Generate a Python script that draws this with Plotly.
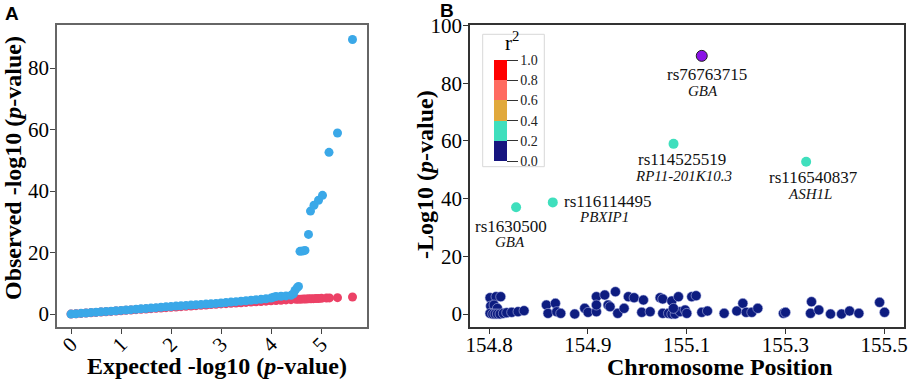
import plotly.graph_objects as go

# ---------------- Panel A: QQ plot ----------------
qq_exp_red = [0.0, 0.1, 0.2, 0.3, 0.4, 0.5, 0.6, 0.7, 0.8, 0.9, 1.0, 1.1, 1.2, 1.3, 1.4, 1.5,
              1.6, 1.7, 1.8, 1.9, 2.0, 2.1, 2.2, 2.3, 2.4, 2.5, 2.6, 2.7, 2.8, 2.9, 3.0, 3.1,
              3.2, 3.3, 3.4, 3.5, 3.6, 3.7, 3.8, 3.9, 4.0, 4.1, 4.2, 4.3, 4.4, 4.5, 4.55, 4.6,
              4.65, 4.7, 4.75, 4.8, 4.85, 4.9, 4.95, 5.01, 5.11, 5.17, 5.33, 5.63]
qq_obs_red = [0.0, 0.11, 0.22, 0.33, 0.44, 0.55, 0.66, 0.77, 0.88, 0.99, 1.1, 1.21, 1.32, 1.43,
              1.54, 1.65, 1.76, 1.87, 1.98, 2.09, 2.2, 2.31, 2.42, 2.53, 2.64, 2.75, 2.86, 2.97,
              3.08, 3.19, 3.3, 3.4, 3.5, 3.6, 3.7, 3.8, 3.9, 4.0, 4.1, 4.2, 4.3, 4.4, 4.5, 4.6,
              4.7, 4.8, 4.82, 4.85, 4.88, 4.9, 4.95, 5.0, 5.02, 5.05, 5.08, 5.15, 5.2, 5.25,
              5.35, 5.55]

qq_exp_blue = [0.0, 0.1, 0.2, 0.3, 0.4, 0.5, 0.6, 0.7, 0.8, 0.9, 1.0, 1.1, 1.2, 1.3, 1.4, 1.5,
               1.6, 1.7, 1.8, 1.9, 2.0, 2.1, 2.2, 2.3, 2.4, 2.5, 2.6, 2.7, 2.8, 2.9, 3.0, 3.1,
               3.2, 3.3, 3.4, 3.5, 3.6, 3.7, 3.8, 3.9, 4.0, 4.05, 4.1, 4.2, 4.3, 4.4, 4.45,
               4.48, 4.52, 4.55,
               4.58, 4.63, 4.68, 4.75, 4.79, 4.86, 4.95, 5.03, 5.16, 5.33, 5.63]
qq_obs_blue = [0.0, 0.12, 0.24, 0.36, 0.48, 0.6, 0.72, 0.84, 0.96, 1.08, 1.2, 1.32, 1.44, 1.57,
               1.7, 1.83, 1.96, 2.09, 2.22, 2.35, 2.48, 2.6, 2.71, 2.82, 2.93, 3.04, 3.15, 3.26,
               3.37, 3.48, 3.6, 3.75, 3.9, 4.05, 4.2, 4.35, 4.5, 4.65, 4.8, 4.98, 5.2, 5.5,
               5.7, 5.8, 5.9, 6.1, 6.6, 7.7, 8.5, 9.0,
               20.4, 20.5, 20.7, 25.9, 33.5, 35.4, 37.0, 38.6, 52.6, 58.9, 89.3]

qq_xticks = [0, 1, 2, 3, 4, 5]
qq_yticks = [0, 20, 40, 60, 80]

# ---------------- Panel B: regional plot ----------------
pos_low = [154.8018, 154.8124, 154.8207, 154.8030, 154.8089, 154.8148, 154.8018, 154.8065,
           154.8106, 154.8148, 154.8195, 154.8254, 154.8313, 154.8402, 154.8514, 154.8621,
           154.9017, 154.9176, 154.9046, 154.9200, 154.9271, 154.9519, 154.9696, 154.9755,
           154.9903, 154.9903, 155.0051, 154.9903, 155.0110, 155.0240, 155.0145, 155.0281,
           155.0394, 155.0470, 155.0571, 155.0736, 155.0707, 155.0855, 155.1032, 155.1079,
           155.1239, 155.1357, 155.1079, 155.1180, 155.1239, 155.1298, 155.1386, 155.1475,
           155.1505, 155.1268, 155.1593, 155.1670, 155.1771, 155.1871, 155.2167, 155.2391,
           155.2498, 155.2557, 155.2657, 155.2763, 155.3218, 155.3254, 155.3715, 155.3697,
           155.3845, 155.4052, 155.4247, 155.4389, 155.4554, 155.4921, 155.5009]
logp_low = [5.66, 6.01, 6.01, 2.77, 3.12, 1.96, 0.23, 0.0, 0.0, 0.0, 0.0, 0.23, 0.46, 0.58,
            0.81, 1.16, 3.12, 3.70, 0.23, 0.81, 0.23, 0.0, 1.96, 0.58, 0.81, 6.01, 6.59, 3.12,
            3.12, 7.74, 2.54, 0.23, 1.96, 6.01, 5.66, 4.85, 0.58, 0.81, 5.66, 5.20, 4.51, 6.01,
            0.23, 0.23, 0.0, 0.0, 0.81, 1.39, 0.23, 1.96, 6.01, 6.35, 0.58, 1.04, 0.23, 1.04,
            3.70, 0.58, 0.58, 1.96, 0.23, 0.58, 4.27, 0.23, 1.39, 0.0, 0.0, 1.04, 0.23, 4.04,
            0.58]

snp_names = ["rs1630500", "rs116114495", "rs114525519", "rs116540837"]
snp_genes = ["GBA", "PBXIP1", "RP11-201K10.3", "ASH1L"]
snp_pos = [154.848, 154.913, 155.127, 155.362]
snp_logp = [37.0, 38.7, 59.0, 52.8]
snp_r2 = [0.3, 0.3, 0.3, 0.3]

lead_name = "rs76763715"
lead_gene = "GBA"
lead_pos = 155.177
lead_logp = 89.5

pos_tickvals = [154.8, 154.975, 155.15, 155.325, 155.5]
pos_ticktext = ["154.8", "154.9", "155.1", "155.3", "155.5"]
logp_ticks = [0, 20, 40, 60, 80, 100]
r2_ticks = [0.0, 0.2, 0.4, 0.6, 0.8, 1.0]
r2_ticktext = ["0.0", "0.2", "0.4", "0.6", "0.8", "1.0"]

# ---------------- styling ----------------
W, H = 913, 380
PLOT_TOP, PLOT_BOT = 25, 327
SERIF = "Liberation Serif"
NAVY = "#0d1c80"
TURQ = "#3fdfbd"
BLUE = "#3aa8e8"
RED = "#ec4166"


def fx(px):
    return px / W


def fy(py):
    return (PLOT_BOT - py) / (PLOT_BOT - PLOT_TOP)


fig = go.Figure()

fig.add_trace(go.Scatter(x=qq_exp_red, y=qq_obs_red, mode="markers",
                         marker=dict(color=RED, size=9), xaxis="x", yaxis="y",
                         showlegend=False, hoverinfo="skip"))
fig.add_trace(go.Scatter(x=qq_exp_blue, y=qq_obs_blue, mode="markers",
                         marker=dict(color=BLUE, size=9), xaxis="x", yaxis="y",
                         showlegend=False, hoverinfo="skip"))

fig.add_trace(go.Scatter(x=pos_low, y=logp_low, mode="markers",
                         marker=dict(color=NAVY, size=10,
                                     line=dict(color="rgba(190,195,235,0.9)", width=0.6)),
                         xaxis="x2", yaxis="y2", showlegend=False, hoverinfo="skip"))
fig.add_trace(go.Scatter(x=snp_pos, y=snp_logp, mode="markers",
                         marker=dict(color=snp_r2, coloraxis="coloraxis", size=10,
                                     line=dict(width=0)),
                         xaxis="x2", yaxis="y2", showlegend=False, hoverinfo="skip"))
fig.add_trace(go.Scatter(x=[lead_pos], y=[lead_logp], mode="markers",
                         marker=dict(color="#8a12e6", size=11,
                                     line=dict(color="#222", width=1)),
                         xaxis="x2", yaxis="y2", showlegend=False, hoverinfo="skip"))

# SNP labels (offsets in pixels relative to each point)
label_offsets = [(-5, -19, -6, -35), (55, 1, 51, -15), (8, -16, 10, -32), (7, -16, 4, -32)]
for name, gene, x, y, (dx1, dy1, dx2, dy2) in zip(snp_names, snp_genes, snp_pos, snp_logp,
                                                   label_offsets):
    fig.add_annotation(x=x, y=y, xref="x2", yref="y2", text=name, showarrow=False,
                       xshift=dx1, yshift=dy1, font=dict(family=SERIF, size=17, color="#111"))
    fig.add_annotation(x=x, y=y, xref="x2", yref="y2", text="<i>" + gene + "</i>",
                       showarrow=False, xshift=dx2, yshift=dy2,
                       font=dict(family=SERIF, size=15, color="#111"))
fig.add_annotation(x=lead_pos, y=lead_logp, xref="x2", yref="y2", text=lead_name,
                   showarrow=False, xshift=5, yshift=-19,
                   font=dict(family=SERIF, size=17, color="#111"))
fig.add_annotation(x=lead_pos, y=lead_logp, xref="x2", yref="y2",
                   text="<i>" + lead_gene + "</i>", showarrow=False, xshift=1, yshift=-35,
                   font=dict(family=SERIF, size=15, color="#111"))

# panel letters
fig.add_annotation(x=fx(12), y=fy(13), xref="paper", yref="paper", xanchor="center",
                   yanchor="middle", text="<b>A</b>", showarrow=False,
                   font=dict(family="Liberation Sans", size=19, color="black"))
fig.add_annotation(x=fx(447), y=fy(11), xref="paper", yref="paper", xanchor="center",
                   yanchor="middle", text="<b>B</b>", showarrow=False,
                   font=dict(family="Liberation Sans", size=19, color="black"))

# axis titles
titlefont = dict(family=SERIF, size=24, color="black")
fig.add_annotation(x=fx(217), y=fy(366), xref="paper", yref="paper", showarrow=False,
                   text="<b>Expected -log10 (<i>p</i>-value)</b>", font=titlefont,
                   xanchor="center", yanchor="middle")
fig.add_annotation(x=fx(13), y=fy(168), xref="paper", yref="paper", showarrow=False,
                   text="<b>Observed -log10 (<i>p</i>-value)</b>", font=titlefont,
                   textangle=-90, xanchor="center", yanchor="middle")
fig.add_annotation(x=fx(720), y=fy(367), xref="paper", yref="paper", showarrow=False,
                   text="<b>Chromosome Position</b>", font=titlefont,
                   xanchor="center", yanchor="middle")
fig.add_annotation(x=fx(425), y=fy(175), xref="paper", yref="paper", showarrow=False,
                   text="<b>-Log10 (<i>p</i>-value)</b>", font=titlefont,
                   textangle=-90, xanchor="center", yanchor="middle")

# r2 legend box + title
fig.add_shape(type="rect", xref="paper", yref="paper", x0=fx(482.7), x1=fx(544.3),
              y0=fy(166.7), y1=fy(34.3), line=dict(color="#d8d8d8", width=1),
              fillcolor="white", layer="above")
fig.add_annotation(x=fx(512), y=fy(42), xref="paper", yref="paper", showarrow=False,
                   text="r<sup>2</sup>", xanchor="center", yanchor="middle",
                   font=dict(family=SERIF, size=21, color="black"))

tickfont = dict(family=SERIF, size=21, color="black")
common = dict(showgrid=False, zeroline=False, ticks="outside", ticklen=5, tickwidth=1,
              showline=True, mirror=True, linewidth=1.5, tickfont=tickfont,
              automargin=False)

colorscale = [[0.0, "#16157f"], [0.2, "#16157f"], [0.2, TURQ], [0.4, TURQ],
              [0.4, "#e1a93c"], [0.6, "#e1a93c"], [0.6, "#ff6b60"], [0.8, "#ff6b60"],
              [0.8, "#ff0000"], [1.0, "#ff0000"]]

fig.update_layout(
    width=W, height=H,
    margin=dict(l=0, r=0, t=PLOT_TOP, b=H - PLOT_BOT, autoexpand=False),
    plot_bgcolor="white", paper_bgcolor="white",
    font=dict(family=SERIF, color="black"),
    xaxis=dict(domain=[fx(57), fx(367)], range=[-0.28, 5.92], tickvals=qq_xticks,
               tickangle=-45, linecolor="#666", tickcolor="#444", ticklabelstandoff=-10,
               **common),
    yaxis=dict(domain=[0, 1], range=[-4.2, 94], tickvals=qq_yticks, linecolor="#666",
               tickcolor="#444", ticklabelstandoff=-3, **common),
    xaxis2=dict(domain=[fx(470), fx(904)], range=[154.7663, 155.5354],
                tickvals=pos_tickvals, ticktext=pos_ticktext, anchor="y2",
                linecolor="#333", tickcolor="#333", ticklabelstandoff=-7, **common),
    yaxis2=dict(domain=[0, 1], range=[-4.5, 100.2], tickvals=logp_ticks, anchor="x2",
                linecolor="#333", tickcolor="#333", ticklabelstandoff=-3, **common),
    coloraxis=dict(
        cmin=0, cmax=1, colorscale=colorscale,
        colorbar=dict(
            x=fx(494), xanchor="left", y=fy(60), yanchor="top",
            lenmode="pixels", len=101, thickness=13, thicknessmode="pixels",
            xpad=0, ypad=0,
            tickvals=r2_ticks, ticktext=r2_ticktext,
            ticks="outside", ticklen=11, tickwidth=1, tickcolor="#333",
            tickfont=dict(family=SERIF, size=14, color="#222"),
            outlinewidth=0, bgcolor="rgba(0,0,0,0)", borderwidth=0,
        ),
    ),
)

fig.write_html("out.html", config={"displayModeBar": False},
               post_script="document.body.style.margin='0';"
                           "document.body.style.overflow='hidden';")
